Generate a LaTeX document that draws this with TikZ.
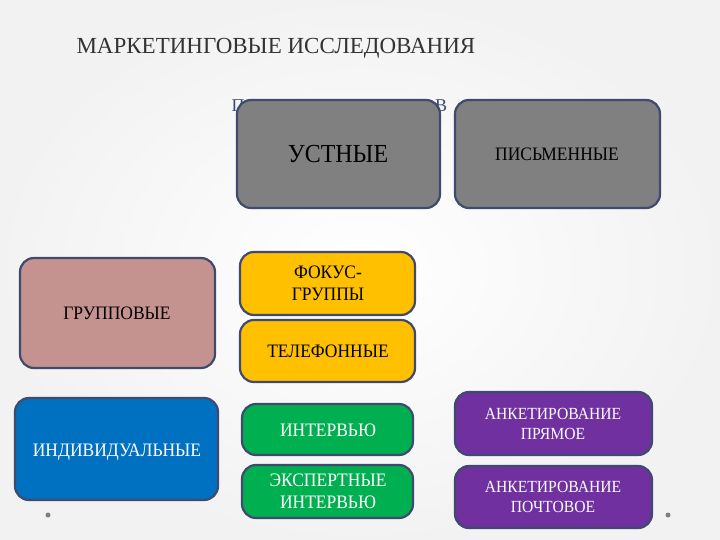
\documentclass[tikz,border=0pt]{standalone}
\usepackage{fontspec}
\setmainfont{Liberation Serif}
\begin{document}
\begin{tikzpicture}[x=1pt,y=-1pt,
  bx/.style={draw=bordc,line width=2.2pt,rounded corners=14pt,align=center,anchor=north west,inner sep=2pt},
  lbl/.style={font=\fontsize{19}{22}\selectfont,align=center,xscale=0.92}]
\definecolor{bordc}{HTML}{3F4A6E}
\definecolor{grayb}{HTML}{808080}
\definecolor{rose}{HTML}{C4938F}
\definecolor{yel}{HTML}{FFC000}
\definecolor{blu}{HTML}{0070C0}
\definecolor{grn}{HTML}{00B050}
\definecolor{pur}{HTML}{7030A0}
\useasboundingbox (0,0) rectangle (720,540);
\shade[inner color=white,outer color=gray!10] (0,0) rectangle (720,540);
\node[anchor=west,font=\fontsize{23}{26}\selectfont,text=black!80] (title) at (73,48) {МАРКЕТИНГОВЫЕ ИССЛЕДОВАНИЯ};
\node[font=\fontsize{18}{20}\selectfont,text=bordc] (hp) at (238,106) {П};
\node[font=\fontsize{18}{20}\selectfont,text=bordc] (hv) at (441,106) {В};
% boxes
\draw[bx,fill=grayb] (237,100) rectangle (440,208);
\node[lbl,font=\fontsize{26}{28}\selectfont] (ust) at (338,154) {УСТНЫЕ};
\draw[bx,fill=grayb] (455,100) rectangle (660,208);
\node[lbl] (pis) at (557,154) {ПИСЬМЕННЫЕ};
\draw[bx,fill=rose] (20,258) rectangle (215,368);
\node[lbl] (gr) at (117,313) {ГРУППОВЫЕ};
\draw[bx,fill=yel] (240,252) rectangle (415,315);
\node[lbl] (fok) at (328,283) {ФОКУС-\\ГРУППЫ};
\draw[bx,fill=yel] (240,320) rectangle (415,382);
\node[lbl] (tel) at (328,351) {ТЕЛЕФОННЫЕ};
\draw[bx,fill=blu] (15,398) rectangle (218,500);
\node[lbl,text=white] (ind) at (117,452) {ИНДИВИДУАЛЬНЫЕ};
\draw[bx,fill=grn] (242,404) rectangle (413,455);
\node[lbl,text=white] (int) at (328,430) {ИНТЕРВЬЮ};
\draw[bx,fill=grn] (242,465) rectangle (413,518);
\node[lbl,text=white] (eks) at (328,491) {ЭКСПЕРТНЫЕ\\ИНТЕРВЬЮ};
\draw[bx,fill=pur] (455,392) rectangle (652,455);
\node[lbl,text=white,font=\fontsize{17}{20}\selectfont] (pr) at (553,424) {АНКЕТИРОВАНИЕ\\ПРЯМОЕ};
\draw[bx,fill=pur] (455,466) rectangle (652,528);
\node[lbl,text=white,font=\fontsize{17}{20}\selectfont] (po) at (553,497) {АНКЕТИРОВАНИЕ\\ПОЧТОВОЕ};
\fill[gray] (48,515) circle (2.5);
\fill[gray] (668,515) circle (2.5);
\end{tikzpicture}
\end{document}
